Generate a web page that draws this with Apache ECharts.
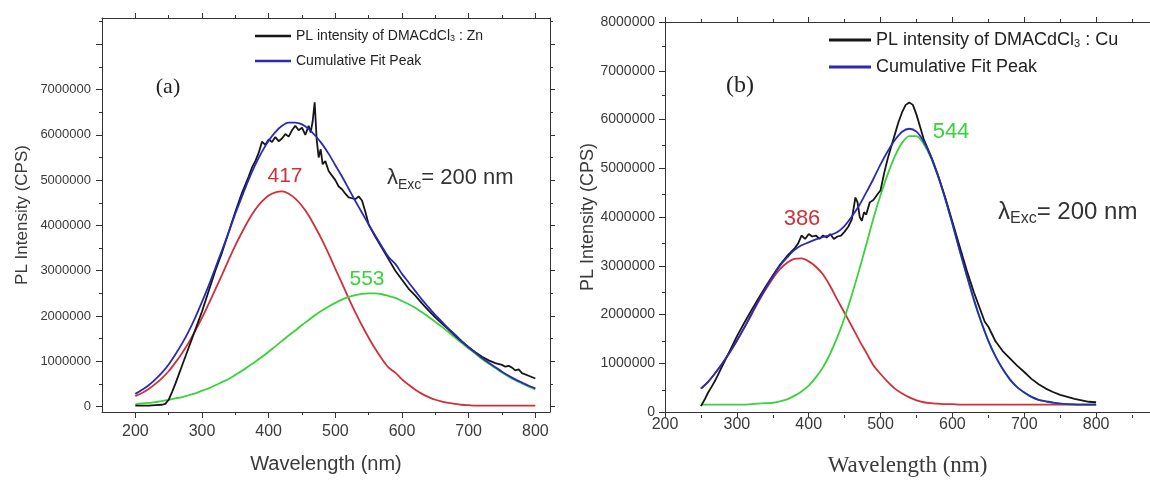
<!DOCTYPE html>
<html><head><meta charset="utf-8">
<script src="https://cdn.jsdelivr.net/npm/echarts@6/dist/echarts.min.js"></script>
<style>html,body{margin:0;padding:0;background:#fff}#c{width:1150px;height:482px}</style>
</head><body><div id="c"></div>
<script>
// ---------- DATA (intensities in millions of CPS) ----------
// Panel (a): DMACdCl3 : Zn
const wlA = [200,210,220,230,240,250,260,270,280,290,300,310,320,330,340,350,360,370,380,390,400,410,420,430,440,450,460,470,480,490,500,510,520,530,540,550,560,570,580,590,600,610,620,630,640,650,660,670,680,690,700,710,720,730,740,750,760,770,780,790,800];
const redA = [0.23,0.30,0.39,0.50,0.63,0.78,0.97,1.18,1.41,1.68,1.96,2.27,2.59,2.91,3.24,3.56,3.85,4.12,4.35,4.53,4.66,4.73,4.75,4.70,4.59,4.43,4.22,3.96,3.68,3.37,3.04,2.72,2.39,2.08,1.79,1.52,1.27,1.05,0.86,0.75,0.60,0.48,0.37,0.28,0.21,0.15,0.11,0.08,0.06,0.04,0.03,0.02,0.02,0.02,0.02,0.02,0.02,0.02,0.02,0.02,0.02];
const greenA = [0.05,0.07,0.08,0.10,0.12,0.15,0.18,0.21,0.25,0.29,0.35,0.40,0.47,0.54,0.61,0.70,0.79,0.89,0.99,1.10,1.21,1.33,1.45,1.57,1.68,1.80,1.91,2.02,2.12,2.21,2.29,2.36,2.42,2.46,2.49,2.50,2.50,2.48,2.44,2.40,2.33,2.26,2.18,2.08,1.98,1.87,1.76,1.64,1.52,1.40,1.28,1.17,1.05,0.95,0.85,0.75,0.66,0.58,0.51,0.44,0.38];
const blueA = [0.28,0.37,0.47,0.60,0.75,0.93,1.15,1.39,1.66,1.97,2.31,2.67,3.06,3.45,3.85,4.26,4.64,5.01,5.34,5.63,5.87,6.06,6.20,6.27,6.27,6.23,6.13,5.98,5.80,5.58,5.33,5.08,4.81,4.54,4.28,4.02,3.77,3.53,3.30,3.15,2.93,2.74,2.55,2.36,2.19,2.02,1.87,1.72,1.58,1.44,1.31,1.19,1.07,0.97,0.87,0.77,0.68,0.60,0.53,0.46,0.40];
const blackAwl = [200,210,220,230,240,245,250,255,260,265,270,280,290,300,310,320,330,340,350,360,370,375,380,385,390,395,400,405,410,415,420,425,430,435,440,445,450,455,460,463,466,469,472,475,478,481,485,490,495,500,505,510,515,520,525,530,535,540,545,550,560,570,580,590,600,610,620,630,640,650,660,670,680,690,700,710,720,730,740,750,755,760,765,770,775,780,790,800];
const blackAval = [0.02,0.02,0.02,0.03,0.04,0.06,0.15,0.32,0.50,0.70,0.90,1.30,1.70,2.10,2.55,3.00,3.40,3.85,4.30,4.72,5.08,5.28,5.42,5.60,5.85,5.78,5.90,5.84,5.95,5.86,5.92,6.02,5.96,6.10,6.20,6.10,6.16,6.00,6.20,6.05,6.30,6.72,5.90,5.50,5.68,5.35,5.42,5.20,5.10,5.00,4.86,4.80,4.70,4.62,4.60,4.58,4.64,4.55,4.30,4.02,3.75,3.50,3.25,3.00,2.80,2.60,2.45,2.28,2.12,1.97,1.83,1.70,1.56,1.43,1.31,1.20,1.10,1.02,0.96,0.92,0.88,0.90,0.86,0.80,0.82,0.74,0.68,0.62];

// Panel (b): DMACdCl3 : Cu
const wlB = [250,260,270,280,290,300,310,320,330,340,350,360,370,380,390,400,410,420,430,440,450,460,470,480,490,500,510,520,530,540,550,560,570,580,590,600,610,620,630,640,650,660,670,680,690,700,710,720,730,740,750,760,770,780,790,800];
const redB = [0.48,0.62,0.80,1.00,1.22,1.46,1.72,1.99,2.26,2.51,2.74,2.93,3.06,3.14,3.15,3.09,2.98,2.82,2.58,2.30,2.03,1.76,1.48,1.22,0.96,0.78,0.62,0.48,0.38,0.30,0.24,0.20,0.18,0.17,0.16,0.16,0.15,0.15,0.15,0.15,0.15,0.15,0.15,0.15,0.15,0.15,0.15,0.15,0.15,0.15,0.15,0.15,0.15,0.15,0.15,0.15];
const greenB = [0.15,0.15,0.15,0.15,0.15,0.15,0.15,0.16,0.17,0.18,0.19,0.22,0.26,0.33,0.42,0.54,0.71,0.92,1.20,1.54,1.94,2.40,2.90,3.43,3.97,4.45,4.88,5.25,5.52,5.66,5.66,5.50,5.22,4.83,4.37,3.86,3.32,2.80,2.30,1.85,1.46,1.14,0.88,0.67,0.51,0.40,0.31,0.25,0.22,0.19,0.17,0.16,0.155,0.15,0.15,0.15];
const blueB = [0.48,0.62,0.80,1.00,1.22,1.46,1.72,2.00,2.28,2.54,2.78,3.00,3.17,3.32,3.42,3.48,3.54,3.59,3.63,3.69,3.82,4.01,4.23,4.50,4.78,5.08,5.35,5.58,5.75,5.81,5.75,5.55,5.25,4.85,4.38,3.86,3.32,2.80,2.30,1.85,1.46,1.14,0.88,0.67,0.51,0.40,0.31,0.25,0.22,0.19,0.17,0.16,0.155,0.15,0.15,0.15];
const blackBwl = [250,255,260,265,270,280,290,300,310,320,330,340,350,360,370,380,385,390,395,400,405,410,415,420,425,430,435,440,445,450,455,460,465,468,471,474,477,480,485,490,495,500,505,510,515,520,525,530,535,540,545,550,555,560,570,580,590,600,610,620,630,640,645,650,655,660,670,680,690,700,710,720,730,740,750,760,770,780,790,800];
const blackBval = [0.12,0.25,0.40,0.52,0.65,0.95,1.25,1.55,1.82,2.08,2.33,2.57,2.80,3.02,3.20,3.35,3.45,3.62,3.55,3.65,3.60,3.62,3.55,3.62,3.58,3.65,3.55,3.60,3.62,3.70,3.80,3.95,4.40,4.30,4.00,3.92,4.10,4.05,4.30,4.35,4.45,4.55,4.90,5.20,5.45,5.70,5.95,6.15,6.30,6.35,6.30,6.10,5.85,5.60,5.25,4.85,4.40,3.90,3.40,2.90,2.45,2.05,1.85,1.75,1.60,1.45,1.25,1.10,0.95,0.82,0.68,0.57,0.48,0.41,0.35,0.31,0.27,0.24,0.21,0.20];

// tick values
const xMajorA = [200,300,400,500,600,700,800];
const xMinorA = [250,350,450,550,650,750];
const yLabelA = [0,1000000,2000000,3000000,4000000,5000000,6000000,7000000];
const yMajorA = [0,1000000,2000000,3000000,4000000,5000000,6000000,7000000,8000000];
const yMinorA = [500000,1500000,2500000,3500000,4500000,5500000,6500000,7500000,8500000];
const xMajorB = [200,300,400,500,600,700,800];
const xMinorB = [250,350,450,550,650,750,850];
const yMajorB = [0,1000000,2000000,3000000,4000000,5000000,6000000,7000000,8000000];
const yMinorB = [500000,1500000,2500000,3500000,4500000,5500000,6500000,7500000];

const nameZn = 'PL intensity of DMACdCl3 : Zn';
const nameCu = 'PL intensity of DMACdCl3 : Cu';
const nameFit = 'Cumulative Fit Peak';

// ---------- CHART ----------
const SANS = '"Liberation Sans", Arial, sans-serif';
const SERIF = '"Liberation Serif", "Times New Roman", serif';
const AX = '#333';
const TXT = '#3a3a3a';
const C_BLACK = '#161616', C_BLUE = '#2a2ab8', C_RED = '#d0303a', C_GREEN = '#3ad23a';

const pairs = (xs, ys) => xs.map((x, i) => [x, ys[i] * 1e6]);
const fmt = v => String(v);

function frameX(grid, pos, min, max, ticks, len, line) {
  return { gridIndex: grid, type: 'value', position: pos, min, max,
    axisLine: { show: line, onZero: false, lineStyle: { color: AX, width: 1 } },
    axisTick: { show: true, customValues: ticks, length: len, lineStyle: { color: AX, width: 1 } },
    axisLabel: { show: false }, splitLine: { show: false } };
}
function frameY(grid, pos, min, max, ticks, len, line) {
  return { gridIndex: grid, type: 'value', position: pos, min, max,
    axisLine: { show: line, onZero: false, lineStyle: { color: AX, width: 1 } },
    axisTick: { show: true, customValues: ticks, length: len, lineStyle: { color: AX, width: 1 } },
    axisLabel: { show: false }, splitLine: { show: false } };
}

const xA0 = frameX(0, 'bottom', 150, 822, xMajorA, 6, true);
xA0.axisLabel = { show: true, customValues: xMajorA, fontSize: 16, fontFamily: SANS, color: TXT, margin: 12 };
xA0.name = 'Wavelength (nm)'; xA0.nameLocation = 'middle'; xA0.nameGap = 42;
xA0.nameTextStyle = { fontSize: 20, fontFamily: SANS, color: TXT };
const xA1 = frameX(0, 'top', 150, 822, xMajorA, 5, true);
const xA2 = frameX(1, 'bottom', 150, 822, xMinorA, 3, false);
const xA3 = frameX(1, 'top', 150, 822, xMinorA, 3, false);

const xB0 = frameX(2, 'bottom', 200, 875, xMajorB, 6, true);
xB0.axisLabel = { show: true, customValues: xMajorB, fontSize: 16, fontFamily: SANS, color: TXT, margin: 5 };
xB0.name = 'Wavelength (nm)'; xB0.nameLocation = 'middle'; xB0.nameGap = 42;
xB0.nameTextStyle = { fontSize: 23, fontFamily: SERIF, color: TXT };
const xB1 = frameX(2, 'top', 200, 875, xMajorB, 5, true);
const xB2 = frameX(3, 'bottom', 200, 875, xMinorB, 3, false);
const xB3 = frameX(3, 'top', 200, 875, xMinorB, 3, false);

const yA0 = frameY(0, 'left', -120000, 8580000, yMajorA, 6, true);
yA0.axisLabel = { show: true, customValues: yLabelA, formatter: fmt, fontSize: 13, fontFamily: SANS, color: TXT, margin: 11 };
yA0.name = 'PL Intensity (CPS)'; yA0.nameLocation = 'middle'; yA0.nameGap = 71; yA0.nameRotate = 90;
yA0.nameTextStyle = { fontSize: 17, fontFamily: SANS, color: TXT };
const yA1 = frameY(0, 'right', -120000, 8580000, yMajorA, 5, true);
const yA2 = frameY(1, 'left', -120000, 8580000, yMinorA, 3, false);
const yA3 = frameY(1, 'right', -120000, 8580000, yMinorA, 3, false);

const yB0 = frameY(2, 'left', 0, 8000000, yMajorB, 6, true);
yB0.axisLabel = { show: true, customValues: yMajorB, formatter: fmt, fontSize: 14, fontFamily: SANS, color: TXT, margin: 10 };
yB0.name = 'PL Intensity (CPS)'; yB0.nameLocation = 'middle'; yB0.nameGap = 68; yB0.nameRotate = 90;
yB0.nameTextStyle = { fontSize: 18, fontFamily: SANS, color: TXT };
const yB2 = frameY(3, 'left', 0, 8000000, yMinorB, 3, false);

function line(name, x, y, xi, yi, color, smooth, z) {
  return { type: 'line', name, data: pairs(x, y), xAxisIndex: xi, yAxisIndex: yi,
    showSymbol: false, symbol: 'none', smooth, z, lineStyle: { color, width: 1.8 },
    itemStyle: { color }, emphasis: { disabled: true } };
}

const subFmt = n => n.replace('DMACdCl3', 'DMACdCl{s|3}');

const option = {
  animation: false,
  backgroundColor: '#ffffff',
  grid: [
    { left: 102, top: 18, width: 448, height: 394 },
    { left: 102, top: 18, width: 448, height: 394 },
    { left: 665, top: 22, width: 486, height: 393 },
    { left: 665, top: 22, width: 486, height: 393 }
  ],
  xAxis: [xA0, xA1, xA2, xA3, xB0, xB1, xB2, xB3],
  yAxis: [yA0, yA1, yA2, yA3, yB0, yB2],
  legend: [
    { data: [nameZn, nameFit], orient: 'vertical', left: 250, top: 24, icon: 'rect', itemWidth: 36, itemHeight: 2.5, itemGap: 11,
      formatter: subFmt, selectedMode: false,
      textStyle: { fontSize: 14, fontFamily: SANS, color: '#222', rich: { s: { fontSize: 9, lineHeight: 9, verticalAlign: 'bottom', fontFamily: SANS, color: '#222' } } } },
    { data: [nameCu, nameFit], orient: 'vertical', left: 824, top: 26, icon: 'rect', itemWidth: 42, itemHeight: 3, itemGap: 9,
      formatter: subFmt, selectedMode: false,
      textStyle: { fontSize: 18, fontFamily: SANS, color: '#222', rich: { s: { fontSize: 11, lineHeight: 11, verticalAlign: 'bottom', fontFamily: SANS, color: '#222' } } } }
  ],
  series: [
    line('Peak 417', wlA, redA, 0, 0, C_RED, 0.3, 2),
    line('Peak 553', wlA, greenA, 0, 0, C_GREEN, 0.3, 2),
    line(nameZn, blackAwl, blackAval, 0, 0, C_BLACK, false, 3),
    line(nameFit, wlA, blueA, 0, 0, C_BLUE, 0.3, 4),
    line('Peak 386', wlB, redB, 4, 4, C_RED, 0.3, 2),
    line('Peak 544', wlB, greenB, 4, 4, C_GREEN, 0.3, 2),
    line(nameCu, blackBwl, blackBval, 4, 4, C_BLACK, false, 3),
    line(nameFit, wlB, blueB, 4, 4, C_BLUE, 0.3, 4)
  ],
  graphic: [
    { type: 'text', x: 168, y: 87, style: { text: '(a)', font: '22px ' + SERIF, fill: '#222', align: 'center', verticalAlign: 'middle' } },
    { type: 'text', x: 740, y: 86, style: { text: '(b)', font: '24px ' + SERIF, fill: '#222', align: 'center', verticalAlign: 'middle' } },
    { type: 'text', x: 285, y: 176, style: { text: '417', font: '21px ' + SANS, fill: C_RED, align: 'center', verticalAlign: 'middle' } },
    { type: 'text', x: 367, y: 279, style: { text: '553', font: '21px ' + SANS, fill: C_GREEN, align: 'center', verticalAlign: 'middle' } },
    { type: 'text', x: 802, y: 219, style: { text: '386', font: '22px ' + SANS, fill: C_RED, align: 'center', verticalAlign: 'middle' } },
    { type: 'text', x: 951, y: 132, style: { text: '544', font: '22px ' + SANS, fill: C_GREEN, align: 'center', verticalAlign: 'middle' } },
    { type: 'text', x: 387, y: 178, style: { text: '{l|λ}{e|Exc}{t|= 200 nm}', align: 'left', verticalAlign: 'middle',
        rich: { l: { fontSize: 22, lineHeight: 28, fontFamily: SANS, fill: '#333' },
                e: { fontSize: 14, lineHeight: 14, verticalAlign: 'bottom', fontFamily: SANS, fill: '#333' },
                t: { fontSize: 22, lineHeight: 28, fontFamily: SANS, fill: '#333' } } } },
    { type: 'text', x: 998, y: 212, style: { text: '{l|λ}{e|Exc}{t|= 200 nm}', align: 'left', verticalAlign: 'middle',
        rich: { l: { fontSize: 24, lineHeight: 30, fontFamily: SANS, fill: '#333' },
                e: { fontSize: 16, lineHeight: 16, verticalAlign: 'bottom', fontFamily: SANS, fill: '#333' },
                t: { fontSize: 24, lineHeight: 30, fontFamily: SANS, fill: '#333' } } } }
  ]
};

const chart = echarts.init(document.getElementById('c'), null, { renderer: 'canvas' });
chart.setOption(option);
</script>
</body></html>
